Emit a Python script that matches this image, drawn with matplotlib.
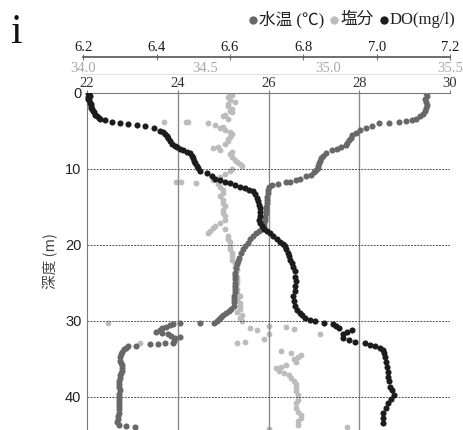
import matplotlib
matplotlib.use("Agg")
import matplotlib.pyplot as plt
from matplotlib.lines import Line2D

plt.rcParams['font.family'] = ['Liberation Serif', 'Noto Sans CJK JP']

# ---- data (depth in m) ----
temp_depth = [0.0, 0.4, 0.8, 1.2, 1.6, 2.0, 2.4, 2.8, 3.1, 3.4, 3.6, 3.75, 3.85, 3.95, 4.05,
              4.4, 4.7, 4.9, 5.3, 5.6, 5.9, 6.2, 6.6, 6.9, 7.2, 7.4, 7.6, 8.0, 8.3, 8.6,
              9.0, 9.3, 9.6, 9.9, 10.2, 10.5, 10.8, 11.0, 11.3, 11.5, 11.7, 11.8, 12.0, 12.2, 12.4,
              12.8, 13.2, 13.7, 14.1, 14.5, 15.0, 15.4, 15.9, 16.3, 16.8, 17.2, 17.6, 17.9, 18.2, 18.5,
              18.9, 19.3, 19.8, 20.2, 20.6, 21.1, 21.7, 22.1, 22.6, 23.1, 23.7, 24.1, 24.5, 25.0, 25.4,
              25.8, 26.3, 26.8, 27.2, 27.6, 28.1, 28.5, 28.7, 29.0, 29.2, 29.5, 29.8, 30.1, 30.3, 30.3,
              30.3, 30.4, 30.6, 30.8, 31.0, 31.2, 31.5, 31.6, 31.8, 32.0, 32.2, 32.3, 32.7, 32.9, 32.9,
              33.1, 33.1, 33.3, 33.4, 33.6, 33.8, 34.1, 34.4, 34.8, 35.3, 35.6, 35.9, 36.3, 36.6, 36.9,
              37.2, 37.6, 38.0, 38.3, 38.7, 39.1, 39.6, 40.0, 40.4, 40.9, 41.3, 41.7, 42.2, 42.6, 43.0,
              43.3, 43.7, 43.9, 44.0]
temp = [29.47, 29.50, 29.46, 29.48, 29.50, 29.48, 29.45, 29.40, 29.33, 29.25, 29.16, 29.03, 28.88, 28.66, 28.44,
        28.28, 28.15, 28.02, 27.93, 27.85, 27.81, 27.78, 27.74, 27.70, 27.60, 27.50, 27.41, 27.27, 27.20, 27.16,
        27.13, 27.12, 27.10, 27.08, 27.05, 27.01, 26.93, 26.83, 26.70, 26.60, 26.48, 26.39, 26.20, 26.08, 26.01,
        25.98, 25.98, 25.97, 25.97, 25.96, 25.95, 25.94, 25.94, 25.93, 25.92, 25.91, 25.90, 25.85, 25.80, 25.73,
        25.66, 25.60, 25.55, 25.49, 25.44, 25.39, 25.35, 25.33, 25.31, 25.29, 25.27, 25.27, 25.27, 25.27, 25.27,
        25.26, 25.26, 25.25, 25.25, 25.25, 25.24, 25.18, 25.14, 25.06, 25.00, 24.95, 24.91, 24.87, 24.80, 24.48,
        24.04, 23.90, 23.82, 23.75, 23.66, 23.60, 23.53, 23.65, 23.78, 23.86, 24.04, 23.95, 23.92, 23.90, 23.71,
        23.57, 23.38, 23.09, 22.91, 22.85, 22.81, 22.77, 22.74, 22.73, 22.73, 22.76, 22.78, 22.78, 22.78, 22.75,
        22.73, 22.72, 22.71, 22.71, 22.71, 22.72, 22.71, 22.71, 22.71, 22.71, 22.70, 22.70, 22.70, 22.69, 22.68,
        22.67, 22.71, 22.87, 23.05]

sal_depth = [0.0, 0.3, 0.6, 0.9, 1.2, 1.5, 1.8, 2.1, 2.4, 2.6, 2.9, 3.1, 3.5, 3.8, 3.8,
             3.9, 4.0, 4.2, 4.5, 4.7, 4.9, 5.2, 5.5, 5.8, 6.1, 6.4, 6.8, 7.1, 7.3, 7.5,
             7.8, 8.1, 8.4, 8.8, 9.1, 9.4, 9.7, 10.0, 10.3, 10.7, 11.1, 11.5, 11.7, 11.7, 11.9,
             12.0, 12.4, 12.8, 13.2, 13.6, 14.1, 14.5, 14.9, 15.4, 15.8, 16.2, 16.7, 17.1, 17.5, 17.8,
             18.0, 18.2, 18.5, 18.9, 19.3, 19.7, 20.2, 20.6, 21.1, 21.5, 22.0, 22.4, 22.9, 23.3, 23.8,
             24.2, 24.6, 25.1, 25.5, 25.9, 26.4, 26.8, 27.2, 27.7, 28.1, 28.5, 28.9, 29.3, 29.6, 30.0,
             30.3, 30.7, 30.9, 31.0, 31.1, 31.3, 31.7, 31.8, 32.4, 32.8, 32.9, 33.0, 34.0, 34.3, 34.5,
             34.8, 35.1, 35.4, 35.8, 36.1, 36.3, 36.6, 36.9, 37.2, 37.6, 38.0, 38.4, 38.8, 39.3, 39.8,
             40.4, 40.9, 41.5, 42.0, 42.4, 42.8, 43.2, 43.7, 44.0, 44.3]
sal = [34.60, 34.61, 34.59, 34.60, 34.62, 34.59, 34.59, 34.61, 34.60, 34.61, 34.58, 34.57, 34.59, 34.33, 34.42,
       34.43, 34.51, 34.54, 34.57, 34.56, 34.58, 34.60, 34.61, 34.60, 34.59, 34.59, 34.58, 34.55, 34.53, 34.56,
       34.61, 34.60, 34.61, 34.62, 34.63, 34.64, 34.65, 34.61, 34.60, 34.58, 34.56, 34.53, 34.38, 34.40, 34.46,
       34.55, 34.56, 34.57, 34.57, 34.56, 34.57, 34.57, 34.58, 34.57, 34.57, 34.58, 34.58, 34.56, 34.54, 34.53,
       34.58, 34.52, 34.51, 34.59, 34.59, 34.60, 34.60, 34.60, 34.61, 34.61, 34.61, 34.62, 34.62, 34.63, 34.62,
       34.63, 34.63, 34.63, 34.62, 34.63, 34.63, 34.64, 34.63, 34.64, 34.64, 34.64, 34.63, 34.65, 34.64, 34.65,
       34.10, 34.76, 34.83, 34.68, 34.86, 34.71, 34.76, 34.97, 34.74, 34.66, 34.23, 34.63, 34.81, 34.85, 34.89,
       34.88, 34.86, 34.87, 34.83, 34.81, 34.79, 34.80, 34.82, 34.84, 34.85, 34.86, 34.87, 34.87, 34.87, 34.88,
       34.88, 34.87, 34.87, 34.88, 34.89, 34.89, 34.88, 34.88, 35.08, 34.76]

do_depth = [0.0, 0.2, 0.4, 0.6, 0.8, 1.0, 1.3, 1.5, 1.7, 2.0, 2.2, 2.4, 2.6, 2.9, 3.1,
            3.3, 3.4, 3.6, 3.8, 4.0, 4.1, 4.2, 4.4, 4.7, 5.0, 5.2, 5.4, 5.7, 6.0, 6.4,
            6.7, 7.0, 7.2, 7.4, 7.6, 7.8, 8.0, 8.3, 8.6, 9.0, 9.3, 9.6, 9.9, 10.3, 10.6,
            11.0, 11.3, 11.5, 11.7, 11.9, 12.1, 12.4, 12.6, 12.8, 13.0, 13.4, 13.9, 14.3, 14.8, 15.2,
            15.7, 16.2, 16.8, 17.2, 17.6, 17.9, 18.2, 18.5, 18.9, 19.2, 19.6, 19.9, 20.2, 20.6, 21.1,
            21.5, 22.0, 22.4, 22.9, 23.5, 24.2, 24.8, 25.5, 26.1, 26.8, 27.4, 28.1, 28.6, 29.0, 29.3,
            29.6, 29.9, 30.1, 30.3, 30.4, 30.7, 31.0, 31.3, 31.5, 31.8, 32.3, 32.6, 32.8, 33.0, 33.2,
            33.4, 33.6, 33.9, 34.3, 34.8, 35.4, 36.1, 36.7, 37.4, 38.0, 38.7, 39.2, 39.8, 40.3, 40.9,
            41.5, 42.2, 42.8, 43.5]
do = [6.212, 6.215, 6.219, 6.214, 6.212, 6.216, 6.217, 6.220, 6.221, 6.222, 6.224, 6.226, 6.228, 6.233, 6.237,
      6.243, 6.246, 6.260, 6.278, 6.300, 6.323, 6.346, 6.369, 6.392, 6.410, 6.418, 6.423, 6.428, 6.432, 6.437,
      6.442, 6.450, 6.455, 6.465, 6.473, 6.482, 6.490, 6.496, 6.500, 6.503, 6.505, 6.510, 6.514, 6.519, 6.537,
      6.550, 6.560, 6.574, 6.587, 6.600, 6.614, 6.628, 6.641, 6.653, 6.664, 6.668, 6.673, 6.677, 6.680, 6.682,
      6.682, 6.681, 6.680, 6.683, 6.687, 6.693, 6.700, 6.709, 6.718, 6.727, 6.737, 6.744, 6.750, 6.754, 6.757,
      6.760, 6.764, 6.768, 6.773, 6.776, 6.778, 6.779, 6.778, 6.776, 6.773, 6.775, 6.778, 6.784, 6.790, 6.797,
      6.805, 6.818, 6.832, 6.857, 6.882, 6.890, 6.896, 6.932, 6.918, 6.909, 6.909, 6.925, 6.941, 6.968, 6.982,
      6.996, 7.008, 7.018, 7.021, 7.023, 7.025, 7.028, 7.030, 7.032, 7.034, 7.037, 7.041, 7.046, 7.040, 7.032,
      7.025, 7.018, 7.018, 7.018]

temp_ticks = [22, 24, 26, 28, 30]
sal_ticks = [34.0, 34.5, 35.0, 35.5]
do_ticks = [6.2, 6.4, 6.6, 6.8, 7.0, 7.2]
depth_ticks = [0, 10, 20, 30, 40]

c_temp = '#686868'
c_sal = '#bcbcbc'
c_do = '#1c1c1c'

W, H = 463, 430
fig = plt.figure(figsize=(W / 100, H / 100), dpi=100)
top = 337.3 / H
ymax = 44.4

# salinity axis (drawn first, underneath)
ax3 = fig.add_axes([83.3 / W, 0, 366.7 / W, top], zorder=1)
ax3.patch.set_visible(False)
ax3.set_xlim(34.0, 35.5)
ax3.set_ylim(ymax, 0)
ax3.plot(sal, sal_depth, 'o', color=c_sal, ms=4.2, mew=0)
for s in ['left', 'right', 'bottom']:
    ax3.spines[s].set_visible(False)
ax3.spines['top'].set_position(('outward', 13.2))
ax3.spines['top'].set_color('#e2e2e2')
ax3.xaxis.tick_top()
ax3.set_xticks(sal_ticks)
ax3.set_xticklabels(['%.1f' % t for t in sal_ticks])
ax3.tick_params(axis='x', top=True, colors='#d0d0d0', labelcolor='#a8a8a8',
                labelsize=10.5, length=1, pad=-1.6)
ax3.set_yticks([])

# temperature axis (main)
ax = fig.add_axes([87 / W, 0, 363 / W, top], zorder=2)
ax.patch.set_visible(False)
ax.set_xlim(22, 30)
ax.set_ylim(ymax, 0)
for x in temp_ticks[1:-1]:
    ax.axvline(x, color='#8a8a8a', lw=1.0, zorder=0)
for d in depth_ticks[1:]:
    ax.axhline(d, color='#555555', lw=0.7, ls=(0, (2, 1.2)), zorder=0)
ax.plot(temp, temp_depth, 'o', color=c_temp, ms=4.4, mew=0)
ax.spines['right'].set_visible(False)
ax.spines['bottom'].set_visible(False)
ax.spines['top'].set_color('#7a7a7a')
ax.spines['left'].set_color('#7a7a7a')
ax.xaxis.tick_top()
ax.set_xticks(temp_ticks)
ax.tick_params(axis='x', colors='#7a7a7a', labelcolor='#333333', labelsize=10.5, length=2, pad=-0.4)
ax.set_yticks(depth_ticks)
ax.set_yticklabels([str(d) for d in depth_ticks], family=['Liberation Sans'])
ax.tick_params(axis='y', length=0, labelsize=10.5, labelcolor='#222222', pad=4)
ax.set_ylabel('深度 (m)', family=['Noto Sans CJK JP'], fontsize=10.5, color='#444444', labelpad=5)

# DO axis
ax2 = fig.add_axes([83.3 / W, 0, 366.7 / W, top], zorder=3)
ax2.patch.set_visible(False)
ax2.set_xlim(6.2, 7.2)
ax2.set_ylim(ymax, 0)
ax2.plot(do, do_depth, 'o', color=c_do, ms=4.4, mew=0)
for s in ['left', 'right', 'bottom']:
    ax2.spines[s].set_visible(False)
ax2.spines['top'].set_position(('outward', 25.9))
ax2.spines['top'].set_color('#555555')
ax2.spines['top'].set_linewidth(1.2)
ax2.xaxis.tick_top()
ax2.set_xticks(do_ticks)
ax2.set_xticklabels(['%.1f' % t for t in do_ticks])
ax2.tick_params(axis='x', direction='inout', colors='#777777', labelcolor='#1a1a1a',
                labelsize=10.5, length=5, pad=-0.3)
ax2.set_yticks([])

# panel letter and legend
fig.text(10 / W, 1 - 43 / H, 'i', fontsize=30, color='#111111', va='baseline')
leg = [(252.7, c_temp, '水温 (℃)'), (334, c_sal, '塩分'), (384, c_do, 'DO(mg/l)')]
for x, c, label in leg:
    fig.add_artist(Line2D([x / W], [1 - 20 / H], marker='o', ms=6, color=c, mew=0,
                          transform=fig.transFigure))
    fig.text((x + 6) / W, 1 - 19.5 / H, label, fontsize=12, color='#222222', va='center')

fig.savefig('out.png', dpi=100)
